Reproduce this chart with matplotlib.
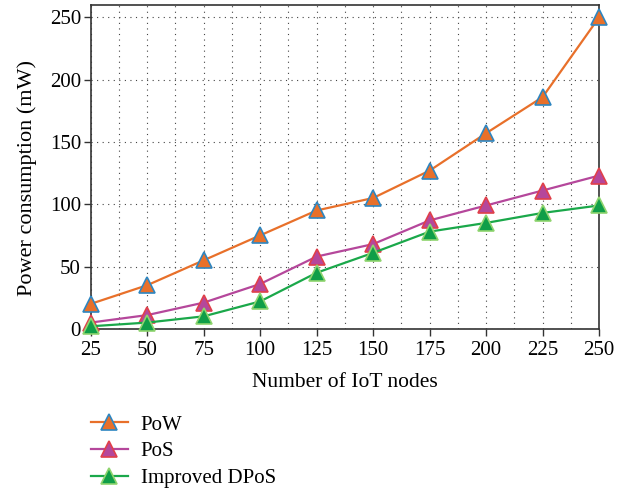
import matplotlib
matplotlib.use('Agg')
import matplotlib.pyplot as plt
from matplotlib.ticker import MultipleLocator

nodes = [25, 50, 75, 100, 125, 150, 175, 200, 225, 250]
pow_power = [20, 35, 55, 75, 95, 105, 127, 157, 186, 250]
pos_power = [5, 11, 21, 36, 58, 68, 87, 99, 111, 123]
dpos_power = [2, 5, 10, 22, 45, 61, 78, 85, 93, 99]

plt.rcParams['font.family'] = ['Liberation Serif', 'DejaVu Serif']
plt.rcParams['font.size'] = 14

fig = plt.figure(figsize=(6.26, 4.9), dpi=100)
ax = fig.add_axes([0.145, 0.329, 0.812, 0.661])

ax.plot(nodes, pow_power, color='#E8702A', lw=1.6, marker='^', ms=11,
        mfc='#E8702A', mec='#2E86C1', mew=1.2, label='PoW', clip_on=False, zorder=3)
ax.plot(nodes, pos_power, color='#B5479B', lw=1.6, marker='^', ms=11,
        mfc='#B5479B', mec='#E0404A', mew=1.2, label='PoS', clip_on=False, zorder=3)
ax.plot(nodes, dpos_power, color='#1AA84A', lw=1.6, marker='^', ms=11,
        mfc='#109E48', mec='#8FD46E', mew=1.2, label='Improved DPoS', clip_on=False, zorder=3)

ax.set_xlim(25, 250)
ax.set_ylim(0, 260)
ax.set_xticks(nodes)
ax.set_yticks([0, 50, 100, 150, 200, 250])
ax.xaxis.set_minor_locator(MultipleLocator(12.5))
ax.tick_params(which='both', direction='out', top=False, right=False)
ax.tick_params(which='major', length=5, width=1, labelsize=15, color='#333333')
ax.tick_params(which='minor', length=0)
ax.tick_params(axis='x', pad=4)
ax.tick_params(axis='y', pad=2)
ax.grid(which='major', ls=(0, (1, 4)), color='#444444', lw=0.8)
ax.grid(which='minor', axis='x', ls=(0, (1, 4)), color='#444444', lw=0.8)
for s in ax.spines.values():
    s.set_color('#333333')
    s.set_linewidth(1.2)

ax.set_xlabel('Number of IoT nodes', fontsize=15.5, labelpad=9)
ax.set_ylabel('Power consumption (mW)', fontsize=16)
ax.yaxis.set_label_coords(-0.106, 0.465)

ax.legend(loc='upper left', bbox_to_anchor=(-0.025, -0.228), frameon=False,
          handlelength=1.8, handletextpad=0.6, labelspacing=0.34,
          borderaxespad=0.2, fontsize=15)

fig.savefig('out.png', dpi=100)
